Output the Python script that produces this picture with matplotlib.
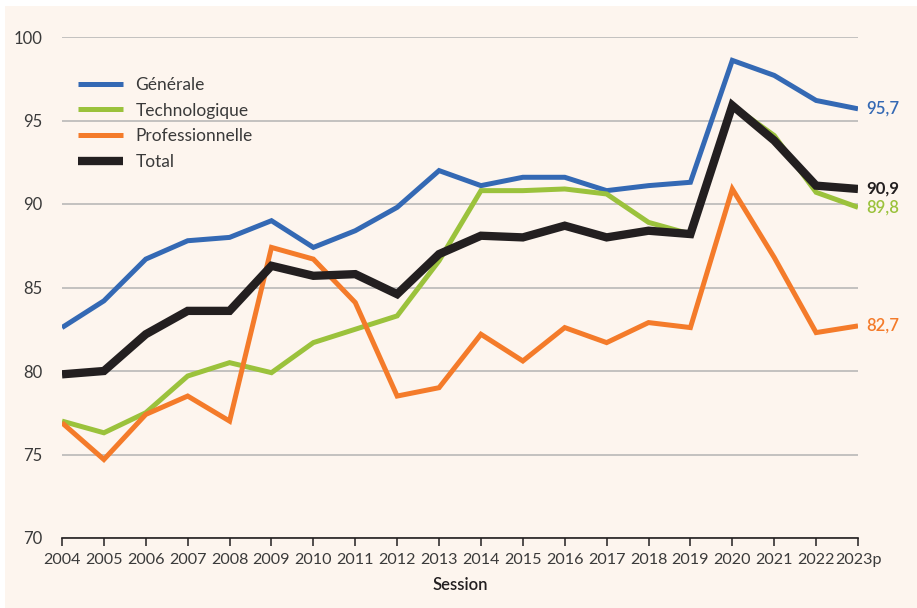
import numpy as np
import matplotlib
matplotlib.use("Agg")
import matplotlib.pyplot as plt
from matplotlib.patches import Rectangle

plt.rcParams['font.family'] = ['Lato', 'DejaVu Sans']

years = list(range(2004, 2024))
year_labels = [str(y) for y in years[:-1]] + ["2023p"]

generale = [82.6, 84.2, 86.7, 87.8, 88.0, 89.0, 87.4, 88.4, 89.8, 92.0,
            91.1, 91.6, 91.6, 90.8, 91.1, 91.3, 98.6, 97.7, 96.2, 95.7]
techno = [77.0, 76.3, 77.5, 79.7, 80.5, 79.9, 81.7, 82.5, 83.3, 86.6,
          90.8, 90.8, 90.9, 90.6, 88.9, 88.2, 95.9, 94.1, 90.7, 89.8]
pro = [76.9, 74.7, 77.4, 78.5, 77.0, 87.4, 86.7, 84.1, 78.5, 79.0,
       82.2, 80.6, 82.6, 81.7, 82.9, 82.6, 90.9, 86.8, 82.3, 82.7]
total = [79.8, 80.0, 82.2, 83.6, 83.6, 86.3, 85.7, 85.8, 84.6, 87.0,
         88.1, 88.0, 88.7, 88.0, 88.4, 88.2, 95.9, 93.8, 91.1, 90.9]

series = [
    ("Générale", generale, "#3469b4", 3.6, "semibold"),
    ("Technologique", techno, "#9bc23c", 3.6, "semibold"),
    ("Professionnelle", pro, "#f47b2a", 3.6, "semibold"),
    ("Total", total, "#231f20", 6.0, "bold"),
]

bg = "#fdf5ee"
txt = "#3a3a3a"

fig = plt.figure(figsize=(9.17, 6.08), dpi=100)
fig.patch.set_facecolor("white")
fig.patches.append(Rectangle((5 / 917, 0), 1, 1 - 6 / 608, transform=fig.transFigure,
                             facecolor=bg, edgecolor="none", zorder=-10))

ax = fig.add_axes([62 / 917, 1 - 538 / 608, 796 / 917, 501 / 608])
ax.set_facecolor("none")

for name, vals, col, lw, wt in series:
    ax.plot(years, vals, color=col, lw=lw, label=name, solid_joinstyle="miter",
            solid_capstyle="butt", zorder=3)
    ax.annotate(str(vals[-1]).replace(".", ","), (years[-1], vals[-1]),
                xytext=(6, 0), textcoords="offset points", va="center", ha="left",
                color=col, fontsize=12, fontweight=wt, annotation_clip=False)

ax.set_xlim(2004, 2023)
ax.set_ylim(70, 100)
ax.set_yticks([70, 75, 80, 85, 90, 95, 100])
ax.set_xticks(years, year_labels)
ax.yaxis.grid(True, color="#b3b3b3", lw=1.1)
ax.set_axisbelow(True)

for s in ["top", "right", "left"]:
    ax.spines[s].set_visible(False)
ax.spines["bottom"].set_color("#231f20")
ax.spines["bottom"].set_linewidth(1.2)
ax.spines["bottom"].set_zorder(4)

ax.tick_params(axis="y", length=0, pad=14, labelsize=12, labelcolor=txt)
ax.tick_params(axis="x", length=6, width=1.1, color="#231f20", pad=5,
               labelsize=11.6, labelcolor=txt)

ax.set_xlabel("Session", fontsize=12, fontweight="semibold", color="#231f20", labelpad=7)

leg = ax.legend(loc="upper left", frameon=False,
                fontsize=12.5, handlelength=2.6, handletextpad=0.7,
                labelspacing=0.55, borderaxespad=0.0, borderpad=0.0)
for t in leg.get_texts():
    t.set_color(txt)
leg.set_bbox_to_anchor((16 / 796, 1 - 40 / 501), transform=ax.transAxes)

fig.savefig("out.png", dpi=100, facecolor=fig.get_facecolor())
